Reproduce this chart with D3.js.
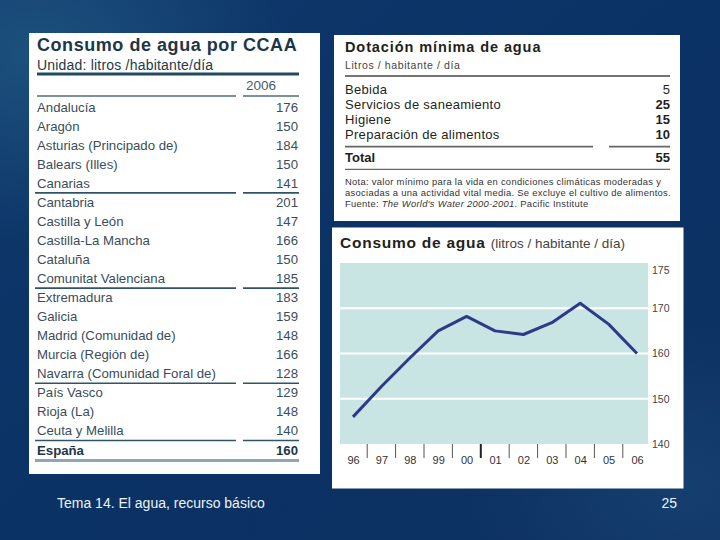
<!DOCTYPE html>
<html>
<head>
<meta charset="utf-8">
<script src="https://cdn.jsdelivr.net/npm/d3@7"></script>
<style>
  html, body { margin: 0; padding: 0; background: #0c3266; }
  svg { display: block; font-family: "Liberation Sans", Arial, sans-serif; }
</style>
</head>
<body>
<svg id="slide" width="720" height="540"></svg>
<script>
// ---------- DATA ----------
const regions = ["Andalucía", "Aragón", "Asturias (Principado de)", "Balears (Illes)", "Canarias",
  "Cantabria", "Castilla y León", "Castilla-La Mancha", "Cataluña", "Comunitat Valenciana",
  "Extremadura", "Galicia", "Madrid (Comunidad de)", "Murcia (Región de)", "Navarra (Comunidad Foral de)",
  "País Vasco", "Rioja (La)", "Ceuta y Melilla"];
const regionValues = [176, 150, 184, 150, 141, 201, 147, 166, 150, 185, 183, 159, 148, 166, 128, 129, 148, 140];
const totalLabel = "España";
const totalValue = 160;
const tableYear = "2006";
const groupEnds = ["Canarias", "Comunitat Valenciana", "Navarra (Comunidad Foral de)", "Ceuta y Melilla"];

const minUses = ["Bebida", "Servicios de saneamiento", "Higiene", "Preparación de alimentos"];
const minValues = [5, 25, 15, 10];
const minTotal = 55;

const years = ["96", "97", "98", "99", "00", "01", "02", "03", "04", "05", "06"];
const consumption = [146, 152.7, 159, 165, 168.2, 165, 164.2, 166.8, 171.1, 166.5, 160];
const yTickValues = [140, 150, 160, 170, 180];
const yTickLabels = ["140", "150", "160", "170", "175"];

// ---------- BACKGROUND ----------
const svg = d3.select("#slide");
const defs = svg.append("defs");
const bg = defs.append("linearGradient").attr("id", "bg").attr("x1", 0).attr("y1", 0).attr("x2", 1).attr("y2", 1);
bg.append("stop").attr("offset", 0).attr("stop-color", "#0f386c");
bg.append("stop").attr("offset", 0.5).attr("stop-color", "#0b3265");
bg.append("stop").attr("offset", 1).attr("stop-color", "#0d3162");
const glow = defs.append("radialGradient").attr("id", "glow").attr("cx", 0.05).attr("cy", 0.1).attr("r", 0.35);
glow.append("stop").attr("offset", 0).attr("stop-color", "#2a6a8e").attr("stop-opacity", 0.5);
glow.append("stop").attr("offset", 1).attr("stop-color", "#2a6a8e").attr("stop-opacity", 0);
const glow2 = defs.append("radialGradient").attr("id", "glow2").attr("cx", 0.95).attr("cy", 0.9).attr("r", 0.3);
glow2.append("stop").attr("offset", 0).attr("stop-color", "#2a5f8a").attr("stop-opacity", 0.3);
glow2.append("stop").attr("offset", 1).attr("stop-color", "#2a5f8a").attr("stop-opacity", 0);
svg.append("rect").attr("width", 720).attr("height", 540).attr("fill", "url(#bg)");
svg.append("rect").attr("width", 720).attr("height", 540).attr("fill", "url(#glow)");
svg.append("rect").attr("width", 720).attr("height", 540).attr("fill", "url(#glow2)");

// ---------- LEFT TABLE ----------
const L = svg.append("g");
L.append("rect").attr("x", 29).attr("y", 33).attr("width", 291).attr("height", 441).attr("fill", "#ffffff");
const tx0 = 37, tx1 = 299, tsplit = 236, tsplit2 = 243;
const tColor = "#3a4d5b";
L.append("text").attr("x", tx0).attr("y", 51).attr("font-size", 18).attr("font-weight", "bold")
  .attr("letter-spacing", 0.55).attr("fill", "#1d3648").text("Consumo de agua por CCAA");
L.append("text").attr("x", tx0).attr("y", 69.5).attr("font-size", 14).attr("fill", "#24394a")
  .attr("letter-spacing", 0.2).text("Unidad: litros /habitante/día");
L.append("line").attr("x1", tx0).attr("x2", tx1).attr("y1", 74).attr("y2", 74)
  .attr("stroke", "#1f4a60").attr("stroke-width", 3);
L.append("text").attr("x", 276).attr("y", 90).attr("text-anchor", "end").attr("font-size", 13.5)
  .attr("fill", "#4a5a66").text(tableYear);
function splitLine(g, y, color, w, a, b, c, d) {
  g.append("line").attr("x1", a).attr("x2", b).attr("y1", y).attr("y2", y).attr("stroke", color).attr("stroke-width", w);
  g.append("line").attr("x1", c).attr("x2", d).attr("y1", y).attr("y2", y).attr("stroke", color).attr("stroke-width", w);
}
splitLine(L, 96, "#7d919d", 2, tx0, tsplit, tsplit2, tx1);

const rowNames = regions.concat([totalLabel]);
const rowY = d3.scalePoint().domain(rowNames).range([111.7, 454.5]);
const rows = L.selectAll("g.row").data(rowNames.map((n, i) => ({
  name: n, value: i < regions.length ? regionValues[i] : totalValue, total: i === regions.length
}))).join("g").attr("class", "row");
rows.append("text").attr("x", tx0).attr("y", d => rowY(d.name)).attr("font-size", 13.2)
  .attr("font-weight", d => d.total ? "bold" : "normal")
  .attr("fill", d => d.total ? "#1d3648" : tColor).text(d => d.name);
rows.append("text").attr("x", 298).attr("y", d => rowY(d.name)).attr("text-anchor", "end").attr("font-size", 13.2)
  .attr("font-weight", d => d.total ? "bold" : "normal")
  .attr("fill", d => d.total ? "#1d3648" : tColor).text(d => d.value);
groupEnds.forEach(n => splitLine(L, rowY(n) + 5, "#2f5468", 1.6, 35, tsplit, tsplit2, tx1));
L.append("line").attr("x1", 35).attr("x2", tx1).attr("y1", rowY(totalLabel) + 6).attr("y2", rowY(totalLabel) + 6)
  .attr("stroke", "#8ea6b5").attr("stroke-width", 3);

// ---------- TOP RIGHT TABLE ----------
const R = svg.append("g");
R.append("rect").attr("x", 334).attr("y", 35).attr("width", 346).attr("height", 186).attr("fill", "#ffffff");
const rx0 = 345, rx1 = 670;
const dark = "#231f20";
R.append("text").attr("x", rx0).attr("y", 51.5).attr("font-size", 14.5).attr("font-weight", "bold")
  .attr("fill", dark).attr("letter-spacing", 0.9).text("Dotación mínima de agua");
R.append("text").attr("x", rx0).attr("y", 68.5).attr("font-size", 10.5).attr("fill", "#444")
  .attr("letter-spacing", 0.6).text("Litros / habitante / día");
R.append("line").attr("x1", rx0).attr("x2", rx1).attr("y1", 76).attr("y2", 76).attr("stroke", "#444").attr("stroke-width", 1.5);
const minY = d3.scalePoint().domain(minUses).range([94, 139.3]);
minUses.forEach((u, i) => {
  R.append("text").attr("x", rx0).attr("y", minY(u)).attr("font-size", 13).attr("letter-spacing", 0.3)
    .attr("fill", dark).text(u);
  R.append("text").attr("x", rx1).attr("y", minY(u)).attr("text-anchor", "end").attr("font-size", 13)
    .attr("font-weight", minValues[i] >= 10 ? "bold" : "normal").attr("fill", dark).text(minValues[i]);
});
splitLine(R, 146.7, "#666", 1.8, rx0, 593, 609, rx1);
R.append("text").attr("x", rx0).attr("y", 162).attr("font-size", 13).attr("font-weight", "bold").attr("fill", dark).text("Total");
R.append("text").attr("x", rx1).attr("y", 162).attr("text-anchor", "end").attr("font-size", 13).attr("font-weight", "bold")
  .attr("fill", dark).text(minTotal);
R.append("line").attr("x1", rx0).attr("x2", rx1).attr("y1", 169.3).attr("y2", 169.3).attr("stroke", "#444").attr("stroke-width", 1);
const noteLines = [
  "Nota: valor mínimo para la vida en condiciones climáticas moderadas y",
  "asociadas a una actividad vital media. Se excluye el cultivo de alimentos."
];
noteLines.forEach((t, i) => R.append("text").attr("x", rx0).attr("y", 185 + i * 11).attr("font-size", 9.4)
  .attr("letter-spacing", 0.3).attr("fill", "#333").text(t));
const src = R.append("text").attr("x", rx0).attr("y", 207).attr("font-size", 9.4).attr("letter-spacing", 0.3).attr("fill", "#333");
src.append("tspan").text("Fuente: ");
src.append("tspan").attr("font-style", "italic").text("The World's Water 2000-2001");
src.append("tspan").text(". Pacific Institute");

// ---------- LINE CHART ----------
const C = svg.append("g");
C.append("rect").attr("x", 332).attr("y", 227.5).attr("width", 351.5).attr("height", 261).attr("fill", "#ffffff");
const t = C.append("text").attr("x", 340).attr("y", 248).attr("fill", dark);
t.append("tspan").attr("font-size", 15.5).attr("font-weight", "bold").attr("letter-spacing", 0.75).text("Consumo de agua ");
t.append("tspan").attr("font-size", 13.5).attr("fill", "#444").text("(litros / habitante / día)");

const plot = { left: 340, right: 648, top: 263, bottom: 444 };
const x = d3.scalePoint().domain(years).range([353, 637]);
const y = d3.scaleLinear().domain([140, 180]).range([plot.bottom, plot.top]);
C.append("rect").attr("x", plot.left).attr("y", plot.top).attr("width", plot.right - plot.left)
  .attr("height", plot.bottom - plot.top).attr("fill", "#c9e5e3");
C.selectAll("line.grid").data(yTickValues.filter(v => v > 140 && v < 180)).join("line").attr("class", "grid")
  .attr("x1", plot.left).attr("x2", plot.right).attr("y1", d => y(d)).attr("y2", d => y(d))
  .attr("stroke", "#ffffff").attr("stroke-width", 2);

// y axis on right
const yAxis = d3.axisRight(y).tickValues(yTickValues).tickSize(0).tickPadding(4)
  .tickFormat((d, i) => yTickLabels[i]);
const ya = C.append("g").attr("transform", `translate(${plot.right},0)`).call(yAxis);
ya.select(".domain").remove();
ya.selectAll("text").attr("font-size", 10.5).attr("fill", "#444").attr("font-family", "Liberation Sans, Arial, sans-serif")
  .attr("y", d => d === 180 ? 7 : 0);

// x axis labels + separators
const xa = C.append("g").attr("transform", `translate(0,${plot.bottom})`)
  .call(d3.axisBottom(x).tickSize(0).tickPadding(12));
xa.select(".domain").remove();
xa.selectAll("text").attr("font-size", 11).attr("fill", "#333").attr("font-family", "Liberation Sans, Arial, sans-serif");
const mids = years.slice(0, -1).map((yr, i) => ({ pos: (x(yr) + x(years[i + 1])) / 2, major: yr === "00" }));
C.selectAll("line.sep").data(mids).join("line").attr("class", "sep")
  .attr("x1", d => d.pos).attr("x2", d => d.pos).attr("y1", plot.bottom).attr("y2", plot.bottom + 14)
  .attr("stroke", d => d.major ? "#222" : "#555").attr("stroke-width", d => d.major ? 2 : 1);

// line
const line = d3.line().x((d, i) => x(years[i])).y(d => y(d));
C.append("path").datum(consumption).attr("d", line).attr("fill", "none")
  .attr("stroke", "#2d3a8c").attr("stroke-width", 3).attr("stroke-linejoin", "round");

// ---------- FOOTER ----------
svg.append("text").attr("x", 57).attr("y", 508).attr("font-size", 14).attr("fill", "#eef3f8")
  .text("Tema 14. El agua, recurso básico");
svg.append("text").attr("x", 677).attr("y", 508).attr("text-anchor", "end").attr("font-size", 14).attr("fill", "#eef3f8")
  .text("25");
</script>
</body>
</html>
